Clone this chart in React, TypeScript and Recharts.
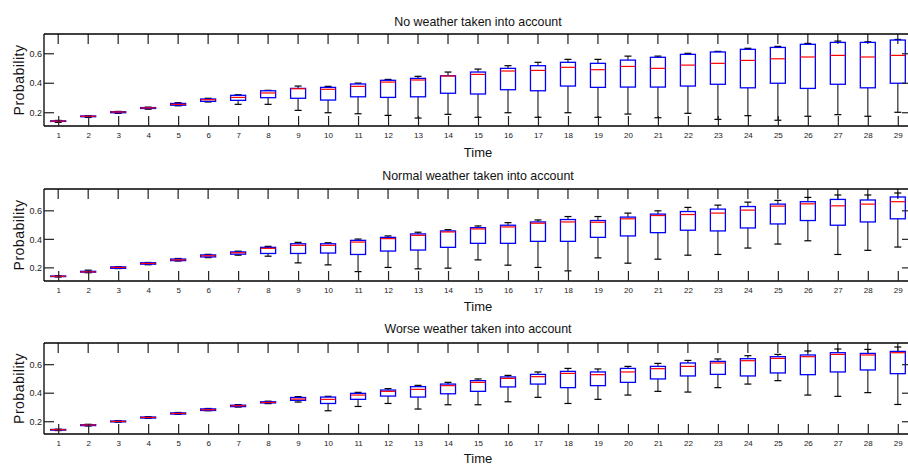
import { ComposedChart, Bar, XAxis, YAxis } from 'recharts';

// time steps on the x axis
const timeSteps = [1, 2, 3, 4, 5, 6, 7, 8, 9, 10, 11, 12, 13, 14, 15, 16, 17, 18, 19, 20, 21, 22, 23, 24, 25, 26, 27, 28, 29];
const probTicks = [0.2, 0.4, 0.6];

// no weather
const noLow = [0.135, 0.168, 0.196, 0.224, 0.247, 0.273, 0.257, 0.257, 0.216, 0.2, 0.193, 0.182, 0.164, 0.189, 0.169, 0.2, 0.169, 0.2, 0.169, 0.191, 0.166, 0.196, 0.155, 0.18, 0.149, 0.176, 0.187, 0.176, 0.203];
const noQ1 = [0.141, 0.173, 0.2, 0.229, 0.251, 0.277, 0.284, 0.302, 0.298, 0.286, 0.308, 0.304, 0.308, 0.332, 0.327, 0.356, 0.349, 0.381, 0.372, 0.374, 0.374, 0.381, 0.393, 0.369, 0.4, 0.365, 0.393, 0.369, 0.4];
const noMed = [0.143, 0.176, 0.205, 0.233, 0.257, 0.288, 0.304, 0.334, 0.363, 0.359, 0.379, 0.408, 0.422, 0.449, 0.46, 0.483, 0.487, 0.508, 0.492, 0.514, 0.501, 0.523, 0.535, 0.555, 0.566, 0.578, 0.589, 0.578, 0.589];
const noQ3 = [0.145, 0.178, 0.207, 0.235, 0.263, 0.293, 0.318, 0.349, 0.365, 0.372, 0.395, 0.42, 0.433, 0.451, 0.476, 0.501, 0.519, 0.542, 0.535, 0.557, 0.576, 0.596, 0.612, 0.63, 0.643, 0.664, 0.677, 0.677, 0.693];
const noHigh = [0.148, 0.18, 0.209, 0.238, 0.268, 0.298, 0.322, 0.352, 0.381, 0.379, 0.401, 0.426, 0.447, 0.476, 0.496, 0.519, 0.542, 0.562, 0.562, 0.584, 0.584, 0.603, 0.616, 0.637, 0.65, 0.67, 0.686, 0.681, 0.697];

// normal weather
const normalLow = [0.136, 0.166, 0.195, 0.222, 0.248, 0.272, 0.289, 0.282, 0.235, 0.221, 0.174, 0.203, 0.193, 0.198, 0.256, 0.219, 0.203, 0.179, 0.27, 0.233, 0.261, 0.289, 0.294, 0.339, 0.367, 0.39, 0.294, 0.323, 0.346];
const normalQ1 = [0.139, 0.17, 0.197, 0.226, 0.251, 0.277, 0.296, 0.301, 0.301, 0.304, 0.294, 0.318, 0.325, 0.344, 0.372, 0.372, 0.386, 0.386, 0.414, 0.424, 0.447, 0.464, 0.459, 0.48, 0.508, 0.532, 0.499, 0.522, 0.544];
const normalMed = [0.141, 0.172, 0.203, 0.231, 0.256, 0.285, 0.306, 0.337, 0.358, 0.358, 0.381, 0.405, 0.428, 0.452, 0.473, 0.487, 0.513, 0.522, 0.52, 0.544, 0.567, 0.574, 0.584, 0.605, 0.633, 0.649, 0.635, 0.647, 0.664];
const normalQ3 = [0.143, 0.176, 0.207, 0.236, 0.262, 0.291, 0.312, 0.344, 0.369, 0.369, 0.393, 0.414, 0.438, 0.459, 0.482, 0.499, 0.522, 0.539, 0.532, 0.556, 0.577, 0.595, 0.612, 0.63, 0.647, 0.664, 0.68, 0.676, 0.697];
const normalHigh = [0.146, 0.184, 0.209, 0.238, 0.266, 0.295, 0.317, 0.351, 0.379, 0.376, 0.402, 0.424, 0.45, 0.468, 0.494, 0.517, 0.536, 0.56, 0.56, 0.584, 0.6, 0.624, 0.64, 0.661, 0.673, 0.694, 0.711, 0.711, 0.725];

// worse weather
const worseLow = [0.138, 0.17, 0.197, 0.224, 0.252, 0.277, 0.303, 0.327, 0.338, 0.277, 0.307, 0.328, 0.289, 0.319, 0.319, 0.34, 0.371, 0.328, 0.357, 0.387, 0.413, 0.408, 0.439, 0.464, 0.488, 0.387, 0.378, 0.404, 0.321];
const worseQ1 = [0.141, 0.173, 0.199, 0.226, 0.254, 0.279, 0.306, 0.332, 0.35, 0.328, 0.357, 0.38, 0.373, 0.396, 0.413, 0.444, 0.464, 0.439, 0.453, 0.476, 0.5, 0.521, 0.532, 0.521, 0.542, 0.53, 0.549, 0.563, 0.537];
const worseMed = [0.144, 0.177, 0.202, 0.23, 0.258, 0.284, 0.312, 0.335, 0.359, 0.357, 0.387, 0.413, 0.427, 0.453, 0.476, 0.504, 0.516, 0.539, 0.53, 0.549, 0.572, 0.588, 0.612, 0.628, 0.644, 0.656, 0.672, 0.668, 0.684];
const worseQ3 = [0.146, 0.179, 0.205, 0.233, 0.262, 0.29, 0.316, 0.34, 0.37, 0.373, 0.399, 0.422, 0.446, 0.464, 0.488, 0.514, 0.532, 0.553, 0.549, 0.574, 0.588, 0.612, 0.623, 0.642, 0.656, 0.668, 0.684, 0.679, 0.693];
const worseHigh = [0.148, 0.182, 0.207, 0.236, 0.265, 0.293, 0.32, 0.344, 0.376, 0.378, 0.406, 0.432, 0.455, 0.476, 0.5, 0.525, 0.549, 0.574, 0.57, 0.588, 0.609, 0.63, 0.64, 0.663, 0.672, 0.696, 0.71, 0.707, 0.724];

const xDomain = [0.51, 29.457];

const buildRows = (low: number[], q1: number[], med: number[], q3: number[], high: number[], yDomain: number[]) =>
  timeSteps.map((t, i) => ({
    t,
    range: [low[i], high[i]],
    low: low[i],
    q1: q1[i],
    med: med[i],
    q3: q3[i],
    high: high[i],
    // upper end of the axis, used for the inward tick at the top edge
    axisTop: yDomain[1],
  }));

function BoxShape(props: any) {
  const { x, y, width, height } = props;
  const d = props.payload ?? props;
  const span = d.high - d.low;
  // linear y scale, so positions are interpolated from the bar's own extent
  const py = (v: number) => (span > 0 ? y + (height * (d.high - v)) / span : y);
  const cx = x + width / 2;
  const cap = 3.5;
  const topEdge = py(d.axisTop);
  return (
    <g>
      <line x1={cx} x2={cx} y1={topEdge} y2={topEdge + 10} stroke="#222" strokeWidth={1.2} />
      <line x1={cx} x2={cx} y1={py(d.high)} y2={py(d.q3)} stroke="#3a3a3a" strokeWidth={1.3} />
      <line x1={cx} x2={cx} y1={py(d.q1)} y2={py(d.low)} stroke="#3a3a3a" strokeWidth={1.3} />
      <line x1={cx - cap} x2={cx + cap} y1={py(d.high)} y2={py(d.high)} stroke="#000" strokeWidth={1.2} />
      <line x1={cx - cap} x2={cx + cap} y1={py(d.low)} y2={py(d.low)} stroke="#000" strokeWidth={1.2} />
      <rect
        x={x}
        y={py(d.q3)}
        width={width}
        height={Math.max(py(d.q1) - py(d.q3), 0.5)}
        fill="none"
        stroke="#0000ff"
        strokeWidth={1.3}
      />
      <line x1={x} x2={x + width} y1={py(d.med)} y2={py(d.med)} stroke="#ff0000" strokeWidth={1.2} />
    </g>
  );
}

const NoShape = () => <g />;
const blank = () => '';

interface PanelProps {
  title: string;
  rows: any[];
  yDomain: number[];
  top: number;
  height: number;
  marginTop: number;
  titleOffset: number;
  timeOffset: number;
}

function Panel({ title, rows, yDomain, top, height, marginTop, titleOffset, timeOffset }: PanelProps) {
  return (
    <div style={{ position: 'absolute', left: 0, top }}>
      <ComposedChart width={930} height={height} data={rows} margin={{ top: marginTop - 1, right: 17, bottom: 0, left: 0 }}>
        <XAxis
          xAxisId="bottom"
          dataKey="t"
          type="number"
          domain={xDomain}
          ticks={timeSteps}
          interval={0}
          allowDataOverflow
          height={34}
          tickSize={-10}
          tickMargin={16}
          axisLine={{ stroke: '#000', strokeWidth: 1.3 }}
          tickLine={{ stroke: '#222', strokeWidth: 1.2 }}
          tick={{ fontSize: 8, fill: '#222' }}
          label={{ value: 'Time', position: 'insideBottom', offset: timeOffset, fontSize: 13, fill: '#111' }}
        />
        <XAxis
          xAxisId="top"
          orientation="top"
          dataKey="t"
          type="number"
          domain={xDomain}
          ticks={timeSteps}
          interval={0}
          allowDataOverflow
          height={1}
          tickLine={false}
          tick={false}
          axisLine={{ stroke: '#000', strokeWidth: 1.3 }}
          label={{ value: title, position: 'top', offset: titleOffset, fontSize: 12.4, fill: '#111' }}
        />
        <YAxis
          yAxisId="left"
          type="number"
          domain={yDomain}
          ticks={probTicks}
          allowDataOverflow
          width={44}
          tickSize={-10}
          tickMargin={12}
          tickFormatter={(v: number) => v.toFixed(1)}
          axisLine={{ stroke: '#000', strokeWidth: 1.3 }}
          tickLine={{ stroke: '#222', strokeWidth: 1.2 }}
          tick={{ fontSize: 9, fill: '#222' }}
          label={{ value: 'Probability', angle: -90, position: 'center', dx: -3, fontSize: 14, fill: '#111', style: { letterSpacing: '0.5px' } }}
        />
        <YAxis
          yAxisId="right"
          orientation="right"
          type="number"
          domain={yDomain}
          ticks={probTicks}
          allowDataOverflow
          width={1}
          tickSize={-10}
          tickFormatter={blank}
          axisLine={{ stroke: '#000', strokeWidth: 1.3 }}
          tickLine={{ stroke: '#222', strokeWidth: 1.2 }}
        />
        <Bar xAxisId="bottom" yAxisId="left" dataKey="range" barSize={15} shape={BoxShape} isAnimationActive={false} />
        <Bar xAxisId="top" yAxisId="right" dataKey="range" barSize={1} shape={NoShape} isAnimationActive={false} />
      </ComposedChart>
    </div>
  );
}

export default function App() {
  const noDomain = [0.11, 0.734];
  const normalDomain = [0.108, 0.753];
  const worseDomain = [0.114, 0.752];
  return (
    <div
      style={{
        position: 'fixed',
        left: 0,
        top: 0,
        width: 908,
        height: 465,
        overflow: 'hidden',
        background: '#fff',
        fontFamily: '"Liberation Sans", Arial, sans-serif',
      }}
    >
      <Panel
        title="No weather taken into account"
        rows={buildRows(noLow, noQ1, noMed, noQ3, noHigh, noDomain)}
        yDomain={noDomain}
        top={0}
        height={160}
        marginTop={34}
        titleOffset={7}
        timeOffset={3}
      />
      <Panel
        title="Normal weather taken into account"
        rows={buildRows(normalLow, normalQ1, normalMed, normalQ3, normalHigh, normalDomain)}
        yDomain={normalDomain}
        top={160}
        height={155}
        marginTop={29}
        titleOffset={8}
        timeOffset={4}
      />
      <Panel
        title="Worse weather taken into account"
        rows={buildRows(worseLow, worseQ1, worseMed, worseQ3, worseHigh, worseDomain)}
        yDomain={worseDomain}
        top={315}
        height={153}
        marginTop={28}
        titleOffset={9}
        timeOffset={5}
      />
    </div>
  );
}
